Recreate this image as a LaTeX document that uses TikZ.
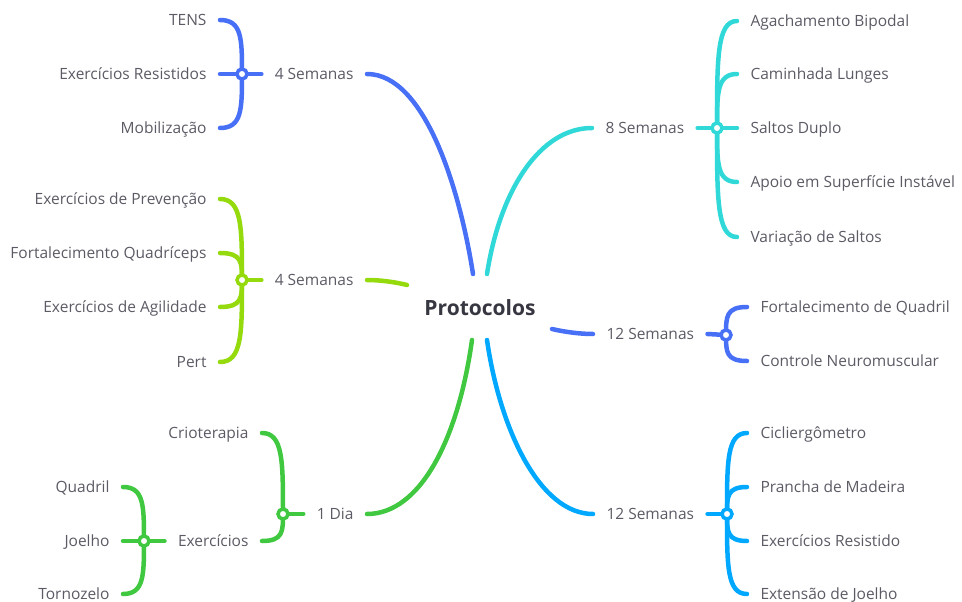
\documentclass[tikz,border=0pt]{standalone}
\usepackage{fontspec}
\setmainfont{Open Sans}
\usetikzlibrary{calc}
\definecolor{cBlue}{RGB}{72,112,246}
\definecolor{cLime}{RGB}{148,218,12}
\definecolor{cGreen}{RGB}{64,200,64}
\definecolor{cCyan}{RGB}{48,216,216}
\definecolor{cSky}{RGB}{0,168,255}
\definecolor{txtc}{RGB}{92,90,100}
\definecolor{rootc}{RGB}{55,55,65}
\newcommand\lf[3]{\draw[conn,#1] (#2) .. controls (#3 |- #2) and ($(#3 |- #2)!.35!(#3)$) .. (#3);}
\begin{document}
\begin{tikzpicture}[x=1pt,y=-1pt,
  txt/.style={font=\fontsize{15.5}{18}\selectfont, text=txtc, inner xsep=13.5pt, inner ysep=0pt, text height=11pt, text depth=0pt, outer sep=0pt},
  rootst/.style={font=\fontsize{21}{24}\selectfont\bfseries, text=rootc, inner sep=0pt},
  conn/.style={line width=4.5pt, line cap=round},
  jc/.style={circle, draw=#1, fill=white, line width=3.5pt, minimum size=10pt, inner sep=0pt}]
\useasboundingbox (0,0) rectangle (962,602);
% root
\node[rootst] (root) at (480,308) {Protocolos};
% branch nodes
\node[txt, anchor=east] (b1) at (367,74) {4 Semanas};
\node[txt, anchor=east] (b2) at (367,280) {4 Semanas};
\node[txt, anchor=east] (b3) at (367,514) {1 Dia};
\node[txt, anchor=west] (b4) at (592,128) {8 Semanas};
\node[txt, anchor=west] (b5) at (593,334) {12 Semanas};
\node[txt, anchor=west] (b6) at (593,514) {12 Semanas};
% junctions
\coordinate (j1) at (242,74);
\coordinate (j2) at (242,280);
\coordinate (j3) at (283,514);
\coordinate (j3b) at (144,541);
\coordinate (j4) at (717,128);
\coordinate (j5) at (726,335);
\coordinate (j6) at (727,514);
% leaves left
\node[txt, anchor=east] (l11) at (220,20) {TENS};
\node[txt, anchor=east] (l12) at (220,74) {Exercícios Resistidos};
\node[txt, anchor=east] (l13) at (220,128) {Mobilização};
\node[txt, anchor=east] (l21) at (220,199) {Exercícios de Prevenção};
\node[txt, anchor=east] (l22) at (220,253) {Fortalecimento Quadríceps};
\node[txt, anchor=east] (l23) at (220,307) {Exercícios de Agilidade};
\node[txt, anchor=east] (l24) at (220,362) {Pert};
\node[txt, anchor=east] (l31) at (262,433) {Crioterapia};
\node[txt, anchor=east] (l32) at (262,541) {Exercícios};
\node[txt, anchor=east] (l321) at (123,487) {Quadril};
\node[txt, anchor=east] (l322) at (123,541) {Joelho};
\node[txt, anchor=east] (l323) at (123,594) {Tornozelo};
% leaves right
\node[txt, anchor=west] (l41) at (737,21) {Agachamento Bipodal};
\node[txt, anchor=west] (l42) at (737,74) {Caminhada Lunges};
\node[txt, anchor=west] (l43) at (737,128) {Saltos Duplo};
\node[txt, anchor=west] (l44) at (737,182) {Apoio em Superfície Instável};
\node[txt, anchor=west] (l45) at (737,237) {Variação de Saltos};
\node[txt, anchor=west] (l51) at (747,307) {Fortalecimento de Quadril};
\node[txt, anchor=west] (l52) at (747,361) {Controle Neuromuscular};
\node[txt, anchor=west] (l61) at (747,433) {Cicliergômetro};
\node[txt, anchor=west] (l62) at (747,487) {Prancha de Madeira};
\node[txt, anchor=west] (l63) at (747,541) {Exercícios Resistido};
\node[txt, anchor=west] (l64) at (747,594) {Extensão de Joelho};
% main branches
\draw[conn,cBlue] ([shift={(-7,-34)}]root.center) .. controls (460,190) and (425,74) .. (b1.east);
\draw[conn,cLime] ([shift={(-73,-23)}]root.center) .. controls (395,282) and (380,280) .. (b2.east);
\draw[conn,cGreen] ([shift={(-8,32)}]root.center) .. controls (458,440) and (420,514) .. (b3.east);
\draw[conn,cCyan] ([shift={(7,-34)}]root.center) .. controls (500,190) and (540,128) .. (b4.west);
\draw[conn,cBlue] ([shift={(72,21)}]root.center) .. controls (565,332) and (580,334) .. (b5.west);
\draw[conn,cSky] ([shift={(7,32)}]root.center) .. controls (500,430) and (540,514) .. (b6.west);
% branch to junction
\draw[conn,cBlue] (b1.west) -- (j1);
\draw[conn,cLime] (b2.west) -- (j2);
\draw[conn,cGreen] (b3.west) -- (j3);
\draw[conn,cGreen] (l32.west) -- (j3b);
\draw[conn,cCyan] (b4.east) -- (j4);
\draw[conn,cBlue] (b5.east) -- (j5);
\draw[conn,cSky] (b6.east) -- (j6);
% leaf connectors
\lf{cBlue}{l11.east}{j1}
\lf{cBlue}{l12.east}{j1}
\lf{cBlue}{l13.east}{j1}
\lf{cLime}{l21.east}{j2}
\lf{cLime}{l22.east}{j2}
\lf{cLime}{l23.east}{j2}
\lf{cLime}{l24.east}{j2}
\lf{cGreen}{l31.east}{j3}
\lf{cGreen}{l32.east}{j3}
\lf{cGreen}{l321.east}{j3b}
\lf{cGreen}{l322.east}{j3b}
\lf{cGreen}{l323.east}{j3b}
\lf{cCyan}{l41.west}{j4}
\lf{cCyan}{l42.west}{j4}
\lf{cCyan}{l43.west}{j4}
\lf{cCyan}{l44.west}{j4}
\lf{cCyan}{l45.west}{j4}
\lf{cBlue}{l51.west}{j5}
\lf{cBlue}{l52.west}{j5}
\lf{cSky}{l61.west}{j6}
\lf{cSky}{l62.west}{j6}
\lf{cSky}{l63.west}{j6}
\lf{cSky}{l64.west}{j6}
% junction circles
\node[jc=cBlue] (j1c) at (j1) {};
\node[jc=cLime] (j2c) at (j2) {};
\node[jc=cGreen] (j3c) at (j3) {};
\node[jc=cGreen] (j3bc) at (j3b) {};
\node[jc=cCyan] (j4c) at (j4) {};
\node[jc=cBlue] (j5c) at (j5) {};
\node[jc=cSky] (j6c) at (j6) {};
\end{tikzpicture}
\end{document}
